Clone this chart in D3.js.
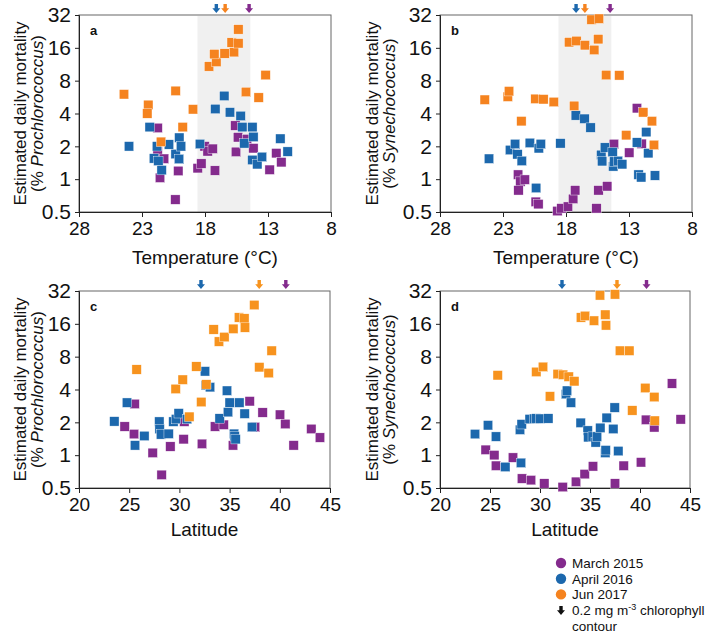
<!DOCTYPE html>
<html>
<head>
<meta charset="utf-8">
<script src="https://cdn.jsdelivr.net/npm/d3@7"></script>
<style>
  body { margin: 0; background: #fff; }
  svg { font-family: "Liberation Sans", Arial, Helvetica, sans-serif; }
</style>
</head>
<body>
<div id="chart"></div>
<script>
// series colours
var colors = { mar: '#842b8d', apr: '#1c68ad', jun: '#f5831f' };
var seriesKeys = ['mar', 'apr', 'jun'];
var legendLabels = ['March 2015', 'April 2016', 'Jun 2017'];

var yTicks = [0.5, 1, 2, 4, 8, 16, 32];
var tempTicks = [28, 23, 18, 13, 8];
var latTicks = [20, 25, 30, 35, 40, 45];
var shadeTemp = [18.6, 14.4];

// [x, mortality %]
// panel a: temperature vs Prochlorococcus
var aMar = [[21.76,2.95],[21.76,1.8],[21.57,1.03],[21.25,1.54],[20.35,0.65],[20.12,1.19],[18.58,1.26],[18.29,1.39],[18.03,2.0],[17.79,1.8],[17.39,1.9],[17.21,1.2],[15.59,3.1],[15.38,2.42],[15.54,1.78],[14.67,2.33],[14.16,1.92],[12.87,1.22],[12.34,1.73],[11.94,1.43]];
var aApr = [[24.03,2.0],[22.39,3.0],[21.81,2.0],[22.05,1.55],[21.7,1.47],[21.44,1.21],[20.86,2.08],[20.33,1.7],[20.06,1.53],[20.04,2.4],[19.9,2.0],[18.4,2.1],[17.18,4.4],[16.47,5.8],[16.02,4.1],[15.17,3.8],[15.04,3.0],[14.88,2.13],[14.24,3.0],[14.16,2.44],[14.24,1.5],[13.85,1.37],[13.48,1.6],[12.02,2.35],[11.44,1.79]];
var aJun = [[24.43,6.0],[22.5,4.8],[22.58,4.0],[21.49,2.2],[20.33,6.45],[19.77,3.0],[18.95,4.37],[17.68,10.8],[17.1,11.9],[17.26,14.0],[16.44,14.2],[15.7,14.6],[15.88,17.9],[15.35,17.6],[15.35,23.6],[14.75,6.3],[13.74,5.6],[13.19,9.0]];
// panel b: temperature vs Synechococcus
var bMar = [[21.8,1.1],[21.62,0.95],[21.27,0.99],[21.77,0.79],[20.4,0.62],[20.19,0.59],[18.68,0.51],[18.36,0.54],[17.85,0.56],[17.43,0.66],[17.27,0.79],[15.58,0.54],[15.42,0.79],[14.73,0.86],[14.2,2.1],[12.98,1.75],[12.37,4.47],[12.0,2.11]];
var bApr = [[24.11,1.54],[22.44,1.85],[22.04,2.1],[21.85,1.69],[21.51,1.47],[20.87,2.15],[20.37,0.83],[20.16,1.92],[20.0,2.1],[18.44,2.13],[17.22,3.84],[16.53,3.58],[16.05,2.97],[15.2,1.67],[14.91,1.95],[15.13,1.46],[14.3,1.77],[14.25,1.31],[14.17,1.45],[13.88,1.47],[13.54,1.37],[12.37,2.17],[12.24,1.1],[12.03,1.04],[11.63,2.7],[11.47,1.73],[10.94,1.08]];
var bJun = [[24.45,5.35],[22.62,5.7],[22.52,6.4],[21.54,3.4],[20.42,5.45],[19.79,5.4],[18.97,5.1],[17.75,18],[17.17,18.5],[17.35,4.7],[16.5,16.9],[15.97,29],[15.39,29.6],[15.76,15.3],[15.44,19.2],[14.81,9.0],[13.77,8.95],[13.22,2.53],[11.87,4.1],[11.18,3.4],[11.02,2.06]];
// panel c: latitude vs Prochlorococcus
var cMar = [[24.55,1.83],[25.48,1.56],[25.54,2.95],[27.34,1.05],[28.23,0.66],[29.1,1.2],[30.42,1.4],[30.49,2.03],[32.25,1.27],[33.55,1.83],[34.41,1.9],[35.34,1.23],[37.0,3.12],[37.53,1.81],[38.29,2.46],[40.02,2.35],[40.55,1.93],[41.38,1.23],[43.14,1.74],[44.0,1.45]];
var cApr = [[23.52,2.04],[24.78,3.03],[25.58,1.23],[26.51,1.5],[28.0,2.03],[28.03,1.74],[28.17,1.55],[28.93,1.57],[29.4,2.03],[29.66,2.14],[29.93,2.42],[30.76,2.14],[32.55,5.87],[32.62,4.37],[33.05,4.2],[34.01,2.17],[34.74,3.9],[34.84,2.48],[35.01,3.03],[35.44,1.57],[35.5,1.49],[35.6,1.4],[35.97,3.03],[36.5,2.4],[37.23,1.81]];
var cJun = [[25.74,6.1],[29.63,4.05],[30.33,4.92],[30.99,2.25],[31.69,6.5],[32.18,3.07],[32.68,4.45],[33.41,14.2],[33.94,11.0],[34.48,12.1],[35.37,14.4],[35.94,18.3],[36.47,17.9],[36.53,14.8],[37.46,23.8],[37.96,6.4],[38.89,5.66],[39.19,9.07]];
// panel d: latitude vs Synechococcus
var dMar = [[24.57,1.12],[25.43,1.0],[25.6,0.8],[27.3,0.95],[28.2,0.61],[29.1,0.59],[30.43,0.55],[32.27,0.51],[33.6,0.57],[34.47,0.67],[35.3,0.79],[37.5,0.55],[38.37,0.8],[40.1,0.86],[40.6,2.11],[41.43,1.8],[43.2,4.54],[44.07,2.13]];
var dApr = [[23.5,1.56],[24.8,1.88],[25.6,1.48],[26.53,0.78],[28.1,0.85],[28.0,1.71],[28.17,1.92],[28.97,2.14],[29.4,2.16],[29.63,2.17],[30.03,2.16],[30.83,2.17],[32.6,3.63],[32.7,3.9],[33.1,3.03],[34.07,1.98],[34.77,1.68],[34.83,1.46],[35.27,1.48],[35.57,1.31],[35.7,1.48],[36.03,1.78],[36.53,1.05],[36.57,1.11],[36.67,2.2],[37.33,1.74],[37.47,2.73],[37.83,1.09]];
var dJun = [[25.77,5.4],[29.63,5.8],[30.3,6.45],[31.0,3.46],[31.77,5.54],[32.3,5.46],[32.87,5.24],[33.43,4.76],[34.1,18.3],[34.5,18.9],[35.4,17.1],[36.0,29.2],[36.6,15.5],[36.53,19.4],[37.5,29.8],[38.0,9.07],[38.93,9.07],[39.23,2.57],[40.53,4.13],[41.43,3.41],[41.47,2.07]];

// 0.2 mg m-3 chlorophyll contour positions [mar, apr, jun]
var tempArrows = [14.5, 17.1, 16.4];
var tempArrowsB = [14.5, 17.2, 16.5];
var latArrowsC = [40.6, 32.15, 37.95];
var latArrowsD = [40.65, 32.2, 37.7];

var panels = [
  { id: 'a', left: 79,  top: 15,  w: 252, h: 197, xKind: 'temp', org: 'Prochlorococcus', data: [aMar, aApr, aJun], arrows: tempArrows, labelX: 20, orange: '#f5831f', titleGap: 52 },
  { id: 'b', left: 440, top: 15,  w: 252, h: 197, xKind: 'temp', org: 'Synechococcus',   data: [bMar, bApr, bJun], arrows: tempArrowsB, labelX: 372, orange: '#f5831f', titleGap: 52 },
  { id: 'c', left: 79,  top: 291, w: 251, h: 197, xKind: 'lat',  org: 'Prochlorococcus', data: [cMar, cApr, cJun], arrows: latArrowsC, labelX: 20, orange: '#f7931e', titleGap: 48 },
  { id: 'd', left: 440, top: 291, w: 250, h: 197, xKind: 'lat',  org: 'Synechococcus',   data: [dMar, dApr, dJun], arrows: latArrowsD, labelX: 372, orange: '#f7931e', titleGap: 48 }
];

var svg = d3.select('#chart').append('svg')
    .attr('width', 706)
    .attr('height', 633);

function arrowPath(cx, tipY) {
  // small down arrow, tip at tipY
  return 'M' + (cx - 1.7) + ',' + (tipY - 9) +
    'L' + (cx + 1.7) + ',' + (tipY - 9) +
    'L' + (cx + 1.7) + ',' + (tipY - 4.8) +
    'L' + (cx + 4) + ',' + (tipY - 4.8) +
    'L' + cx + ',' + tipY +
    'L' + (cx - 4) + ',' + (tipY - 4.8) +
    'L' + (cx - 1.7) + ',' + (tipY - 4.8) + 'Z';
}

panels.forEach(function (p) {
  var x = d3.scaleLinear()
      .domain(p.xKind === 'temp' ? [28, 8] : [20, 45])
      .range([0, p.w]);
  var y = d3.scaleLog().base(2)
      .domain([0.5, 32])
      .range([p.h, 0]);

  var g = svg.append('g')
      .attr('transform', 'translate(' + p.left + ',' + p.top + ')');

  if (p.xKind === 'temp') {
    g.append('rect')
        .attr('x', x(shadeTemp[0]))
        .attr('y', 1)
        .attr('width', x(shadeTemp[1]) - x(shadeTemp[0]))
        .attr('height', p.h - 1)
        .attr('fill', '#f0f0f0');
  }

  // frame
  g.append('rect')
      .attr('width', p.w)
      .attr('height', p.h)
      .attr('fill', 'none')
      .attr('stroke', '#666')
      .attr('stroke-width', 1);

  var yAxis = d3.axisLeft(y)
      .tickValues(yTicks)
      .tickFormat(d3.format('~g'))
      .tickSize(4)
      .tickPadding(4);
  var yg = g.append('g').call(yAxis);
  yg.selectAll('text').attr('font-size', 21).attr('fill', '#111');

  var xAxis = d3.axisBottom(x)
      .tickValues(p.xKind === 'temp' ? tempTicks : latTicks)
      .tickFormat(d3.format('d'))
      .tickSize(5)
      .tickPadding(5);
  var xg = g.append('g')
      .attr('transform', 'translate(0,' + p.h + ')')
      .call(xAxis);
  xg.selectAll('text').attr('font-size', 19).attr('fill', '#111');

  [yg, xg].forEach(function (ax) {
    ax.select('.domain').attr('stroke', '#222');
    ax.selectAll('.tick line').attr('stroke', '#222');
  });

  // x title
  g.append('text')
      .attr('x', p.w / 2)
      .attr('y', p.h + p.titleGap)
      .attr('text-anchor', 'middle')
      .attr('font-size', 19)
      .attr('fill', '#111')
      .text(p.xKind === 'temp' ? 'Temperature (°C)' : 'Latitude');

  // y title (two lines)
  var cy = p.top + p.h / 2;
  svg.append('text')
      .attr('transform', 'translate(' + (p.labelX + 6) + ',' + cy + ') rotate(-90)')
      .attr('text-anchor', 'middle')
      .attr('font-size', 17)
      .attr('fill', '#111')
      .text('Estimated daily mortality');
  var t2 = svg.append('text')
      .attr('transform', 'translate(' + (p.labelX + 23) + ',' + cy + ') rotate(-90)')
      .attr('text-anchor', 'middle')
      .attr('font-size', 17)
      .attr('fill', '#111');
  t2.append('tspan').text('(% ');
  t2.append('tspan').attr('font-style', 'italic').text(p.org);
  t2.append('tspan').text(')');

  // panel letter
  g.append('text')
      .attr('x', 11)
      .attr('y', 20)
      .attr('font-size', 13)
      .attr('font-weight', 'bold')
      .attr('fill', '#111')
      .text(p.id);

  // points
  p.data.forEach(function (series, i) {
    var col = seriesKeys[i] === 'jun' ? p.orange : colors[seriesKeys[i]];
    g.append('g').selectAll('rect')
        .data(series)
        .enter().append('rect')
          .attr('x', function (d) { return x(d[0]) - 4.7; })
          .attr('y', function (d) { return y(d[1]) - 4.7; })
          .attr('width', 9.4)
          .attr('height', 9.4)
          .attr('fill', col)
          .attr('stroke', '#fff')
          .attr('stroke-width', 0.4);
  });

  // chlorophyll contour arrows
  g.append('g').selectAll('path')
      .data(p.arrows)
      .enter().append('path')
        .attr('d', function (d) { return arrowPath(x(d), -2); })
        .attr('fill', function (d, i) {
          return seriesKeys[i] === 'jun' ? p.orange : colors[seriesKeys[i]];
        });
});

// legend
var leg = svg.append('g').attr('transform', 'translate(561,563)');
legendLabels.forEach(function (lab, i) {
  var row = leg.append('g').attr('transform', 'translate(0,' + (i * 15.7) + ')');
  row.append('circle')
      .attr('r', 5.2)
      .attr('fill', colors[seriesKeys[i]]);
  row.append('text')
      .attr('x', 11)
      .attr('y', 4.8)
      .attr('font-size', 13.5)
      .attr('fill', '#111')
      .text(lab);
});
var arrowRow = leg.append('g').attr('transform', 'translate(0,' + (3 * 15.7) + ')');
arrowRow.append('path')
    .attr('d', arrowPath(0, 5))
    .attr('fill', '#111');
var at = arrowRow.append('text')
    .attr('x', 11)
    .attr('y', 4.8)
    .attr('font-size', 13.5)
    .attr('fill', '#111');
at.append('tspan').text('0.2 mg m');
at.append('tspan').attr('font-size', 9).attr('dy', -5).text('-3');
at.append('tspan').attr('dy', 5).text(' chlorophyll');
arrowRow.append('text')
    .attr('x', 11)
    .attr('y', 4.8 + 16)
    .attr('font-size', 13.5)
    .attr('fill', '#111')
    .text('contour');
</script>
</body>
</html>
